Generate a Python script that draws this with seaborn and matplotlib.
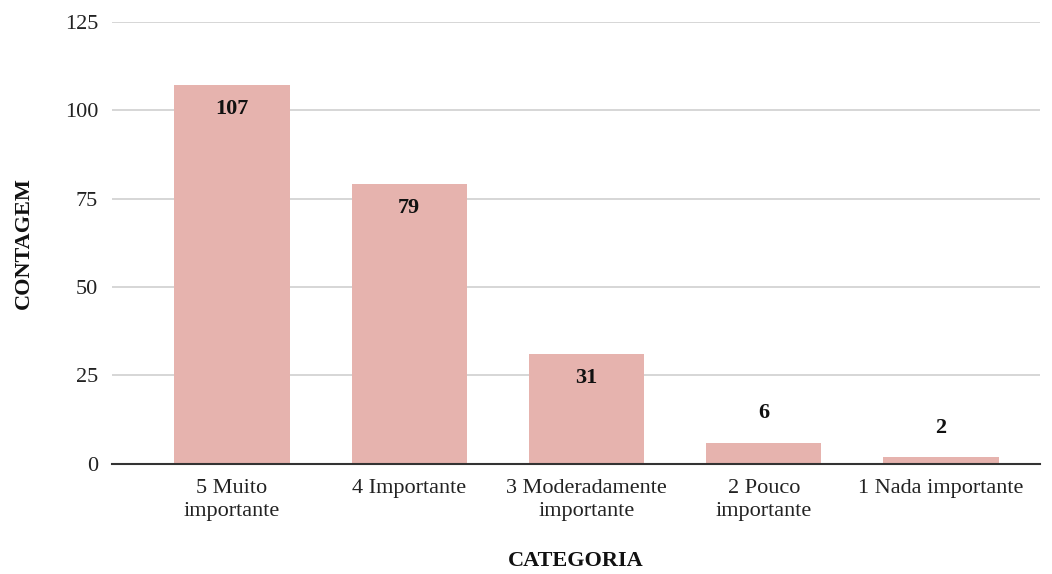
import matplotlib
matplotlib.use("Agg")
import matplotlib.pyplot as plt
import seaborn as sns
import pandas as pd

categorias = ["5 Muito\nimportante", "4 Importante", "3 Moderadamente\nimportante",
              "2 Pouco\nimportante", "1 Nada importante"]
contagens = [107, 79, 31, 6, 2]
yticks = [0, 25, 50, 75, 100, 125]

sns.set_theme(style="white")
plt.rcParams["font.family"] = ["Liberation Serif", "DejaVu Serif"]

df = pd.DataFrame({"CATEGORIA": categorias, "CONTAGEM": contagens})

fig = plt.figure(figsize=(10.52, 5.74), dpi=100)
ax = fig.add_axes([0.1065, 0.192, 0.882, 0.77])

sns.barplot(data=df, x="CATEGORIA", y="CONTAGEM", color="#e6b3ae", saturation=1,
            width=0.65, ax=ax, zorder=3, linewidth=0)

ax.set_ylim(0, 125)
ax.set_xlim(-0.677, 4.558)
ax.set_yticks(yticks)
ax.set_yticklabels([str(v) for v in yticks], fontsize=16, color="#222222")
ax.tick_params(axis="x", labelsize=16, colors="#222222", length=0, pad=11)
ax.tick_params(axis="y", length=0, pad=10)
for lab in ax.get_xticklabels():
    lab.set_linespacing(1.25)

ax.yaxis.grid(True, color="#d0d0d0", linewidth=1.2, zorder=0)
for s in ["top", "right", "left"]:
    ax.spines[s].set_visible(False)
ax.spines["bottom"].set_color("#333333")
ax.spines["bottom"].set_linewidth(1.5)
ax.spines["bottom"].set_zorder(4)

ax.set_xlabel("CATEGORIA", fontsize=16, fontweight="bold", color="#111111", labelpad=22)
ax.set_ylabel("CONTAGEM", fontsize=16, fontweight="bold", color="#111111", labelpad=22)

for i, v in enumerate(contagens):
    if v > 20:
        ax.annotate(str(v), (i, v), xytext=(0, -17), textcoords="offset points",
                    ha="center", va="center", fontsize=16, fontweight="bold",
                    color="#111111", zorder=5)
    else:
        ax.annotate(str(v), (i, v), xytext=(0, 21), textcoords="offset points",
                    ha="center", va="center", fontsize=16, fontweight="bold",
                    color="#111111", zorder=5)

fig.savefig("out.png", dpi=100, facecolor="white")
